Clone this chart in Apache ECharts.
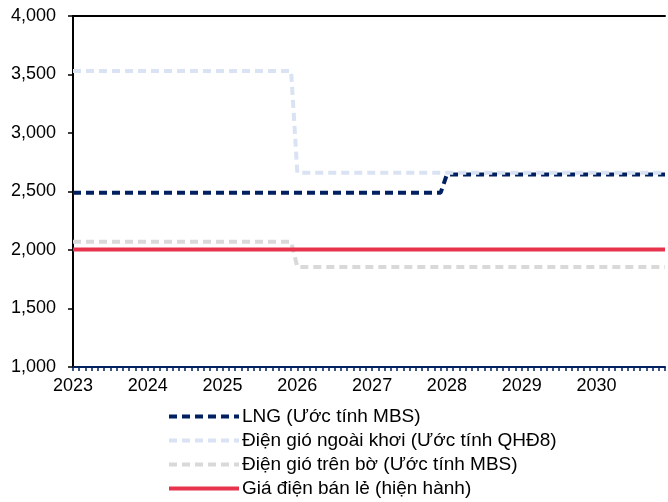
<!DOCTYPE html>
<html>
<head>
<meta charset="utf-8">
<script src="https://cdn.jsdelivr.net/npm/echarts@6/dist/echarts.min.js"></script>
<style>
  html, body { margin: 0; padding: 0; background: #fff; }
  #chart { width: 668px; height: 502px; }
</style>
</head>
<body>
<div id="chart"></div>
<script>
// nhãn trục x (mỗi năm = 12 tháng, tính từ 01/2023)
const years = ['2023', '2024', '2025', '2026', '2027', '2028', '2029', '2030']
const yTicks = [1000, 1500, 2000, 2500, 3000, 3500, 4000]

// [tháng, giá] — các điểm gãy của đường bậc thang
const lngPts = [[0, 2490], [59, 2490], [60, 2645], [95, 2645]]
const offshorePts = [[0, 3530], [35, 3530], [36, 2660], [95, 2660]]
const onshorePts = [[0, 2070], [35, 2070], [36, 1855], [95, 1855]]
const retailPts = [[0, 2005], [95, 2005]]

const names = [
  'LNG (Ước tính MBS)',
  'Điện gió ngoài khơi (Ước tính QHĐ8)',
  'Điện gió trên bờ (Ước tính MBS)',
  'Giá điện bán lẻ (hiện hành)'
]

const font = 'Liberation Sans, Arial, sans-serif'
const chart = echarts.init(document.getElementById('chart'))

function lineSeries(name, data, color, type) {
  return {
    name,
    type: 'line',
    data,
    symbol: 'none',
    animation: false,
    lineStyle: { color, width: 4, type },
    itemStyle: { color }
  }
}

chart.setOption({
  animation: false,
  grid: { left: 73, top: 16, right: 0, bottom: 135 },
  xAxis: [
    {
      type: 'value',
      min: 0,
      max: 95,
      interval: 1,
      axisLine: { lineStyle: { color: '#002060', width: 2 } },
      axisTick: { show: true, length: 4, lineStyle: { color: '#002060', width: 1.5 } },
      axisLabel: {
        margin: 10,
        color: '#000',
        fontFamily: font,
        fontSize: 18,
        hideOverlap: false,
        formatter: v => (v % 12 === 0 ? years[v / 12] || '' : '')
      },
      splitLine: { show: false }
    },
    {
      type: 'value',
      position: 'top',
      min: 0,
      max: 95,
      axisLine: { show: true, onZero: false, lineStyle: { color: '#000', width: 2 } },
      axisTick: { show: false },
      axisLabel: { show: false },
      splitLine: { show: false }
    }
  ],
  yAxis: {
    type: 'value',
    min: yTicks[0],
    max: yTicks[yTicks.length - 1],
    interval: 500,
    axisLine: { show: true, lineStyle: { color: '#000', width: 2 } },
    axisTick: { show: true, length: 5, lineStyle: { color: '#000', width: 1.5 } },
    axisLabel: {
      margin: 17,
      color: '#000',
      fontFamily: font,
      fontSize: 18,
      formatter: v => v.toLocaleString('en-US')
    },
    splitLine: { show: false }
  },
  legend: {
    orient: 'vertical',
    left: 167,
    top: 407,
    padding: 0,
    height: 140,
    itemWidth: 70,
    itemHeight: 14,
    itemGap: 5,
    itemStyle: { opacity: 0 },
    lineStyle: { width: 4 },
    textStyle: { fontFamily: font, fontSize: 19, color: '#000', padding: [0, 0, 0, -2] },
    data: names
  },
  series: [
    lineSeries(names[0], lngPts, '#002060', [8, 5]),
    lineSeries(names[1], offshorePts, '#dae3f3', [8, 5]),
    lineSeries(names[2], onshorePts, '#d9d9d9', [8, 5]),
    lineSeries(names[3], retailPts, '#e8334d', 'solid')
  ]
})
</script>
</body>
</html>
